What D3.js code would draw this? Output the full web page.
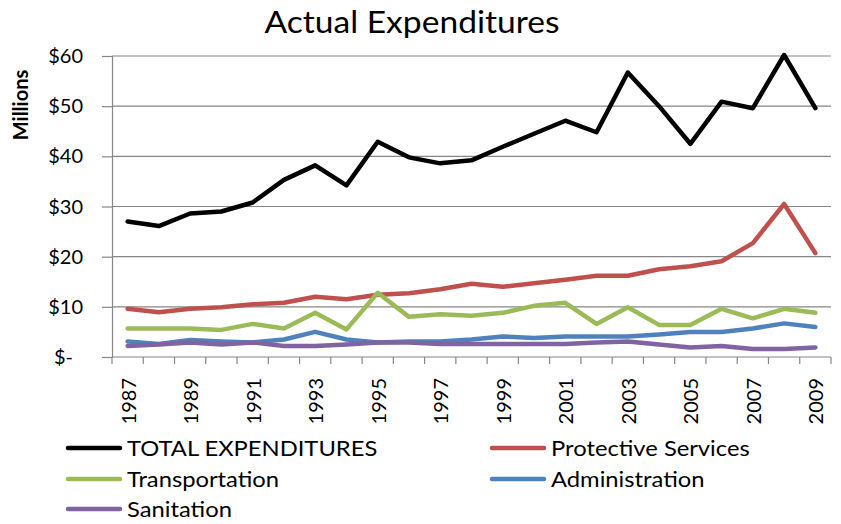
<!DOCTYPE html>
<html><head><meta charset="utf-8">
<script src="https://cdn.jsdelivr.net/npm/d3@7"></script>
<style>body{margin:0;background:#fff}svg{display:block}</style>
</head><body>
<svg id="c" width="841" height="524"></svg>
<script>
const years = [1987,1988,1989,1990,1991,1992,1993,1994,1995,1996,1997,1998,1999,2000,2001,2002,2003,2004,2005,2006,2007,2008,2009];
const total = [27.0,26.1,28.6,29.0,30.8,35.3,38.2,34.2,42.9,39.8,38.6,39.2,41.9,44.5,47.1,44.8,56.7,50.0,42.5,50.9,49.6,60.2,49.6];
const protective = [9.6,8.9,9.6,9.9,10.5,10.8,12.0,11.5,12.4,12.7,13.5,14.6,14.0,14.7,15.4,16.2,16.2,17.5,18.1,19.1,22.7,30.5,20.7];
const transportation = [5.7,5.7,5.7,5.4,6.6,5.7,8.8,5.5,12.8,8.0,8.5,8.2,8.8,10.2,10.8,6.6,9.9,6.4,6.4,9.6,7.7,9.6,8.8];
const administration = [3.1,2.6,3.4,3.1,2.9,3.5,5.0,3.5,2.9,3.1,3.1,3.5,4.1,3.8,4.1,4.1,4.1,4.5,5.0,5.0,5.7,6.7,6.0];
const sanitation = [2.2,2.5,2.9,2.5,2.9,2.2,2.2,2.5,2.9,2.9,2.6,2.6,2.6,2.6,2.6,2.9,3.1,2.5,1.9,2.2,1.6,1.6,1.9];
const seriesNames = ["TOTAL EXPENDITURES","Protective Services","Transportation","Administration","Sanitation"];
const seriesColors = ["#000000","#C0504D","#9BBB59","#4F81BD","#8064A2"];
const yTicks = [0,10,20,30,40,50,60];
const yTickLabels = ["$-","$10","$20","$30","$40","$50","$60"];
const labelYears = years.filter((d,i)=>i%2===0);

const seriesData = [total, protective, transportation, administration, sanitation];
const svg = d3.select("#c");
const L = 112, R = 831, T = 56, B = 357;
const font = "Lato, 'Open Sans', sans-serif";

const x = d3.scaleBand().domain(years).range([L, R]).padding(0);
const y = d3.scaleLinear().domain([0, 60]).range([B, T]);
const grey = "#868686";

// gridlines
svg.append("g").selectAll("line").data(yTicks.filter(d=>d>0)).join("line")
  .attr("x1", L).attr("x2", R).attr("y1", d=>y(d)).attr("y2", d=>y(d))
  .attr("stroke", grey).attr("stroke-width", 1.2);

// y axis
const yAxis = d3.axisLeft(y).tickValues(yTicks).tickSize(10).tickPadding(19)
  .tickFormat((d,i)=>yTickLabels[i]);
const yg = svg.append("g").attr("transform", `translate(${L},0)`).call(yAxis);
yg.select(".domain").attr("stroke", grey).attr("stroke-width", 1.2);
yg.selectAll(".tick line").attr("stroke", grey).attr("stroke-width", 1.2);
yg.selectAll(".tick text").attr("font-family", font).attr("font-size", 20).attr("fill", "#000")
  .attr("dy", "0.33em");
yg.selectAll(".tick text").filter(d=>d===0).attr("dx", -10);

// x axis: baseline, ticks at band edges
const xg = svg.append("g");
xg.append("line").attr("x1", L).attr("x2", R).attr("y1", B).attr("y2", B)
  .attr("stroke", grey).attr("stroke-width", 1.2);
const edges = years.map(d=>x(d)).concat([x(years[years.length-1]) + x.bandwidth()]);
xg.selectAll("line.tk").data(edges).join("line").attr("class","tk")
  .attr("x1", d=>d).attr("x2", d=>d).attr("y1", B).attr("y2", B+7)
  .attr("stroke", grey).attr("stroke-width", 1.2);
xg.selectAll("text").data(labelYears).join("text")
  .attr("transform", d=>`translate(${x(d)+x.bandwidth()/2+8},${B+21}) rotate(-90)`)
  .attr("text-anchor", "end").attr("font-family", font).attr("font-size", 20).attr("fill","#000")
  .text(d=>d);

// lines
const line = d3.line().x((d,i)=>x(years[i]) + x.bandwidth()/2).y(d=>y(d));
svg.append("g").selectAll("path").data(seriesData).join("path")
  .attr("d", d=>line(d)).attr("fill","none")
  .attr("stroke", (d,i)=>seriesColors[i]).attr("stroke-width", 4.5)
  .attr("stroke-linejoin","round").attr("stroke-linecap","round");

// title
svg.append("text").attr("transform", "translate(412,33) scale(1.12,1)").attr("text-anchor","middle")
  .attr("font-family", font).attr("font-size", 30).attr("fill","#000").text("Actual Expenditures");

// y title
svg.append("text").attr("transform", "translate(28,105) rotate(-90)").attr("text-anchor","middle")
  .attr("font-family", font).attr("font-size", 20).attr("font-weight","bold").attr("fill","#000").text("Millions");

// legend
const legPos = [[67,448],[491,448],[67,479],[491,479],[67,509]];
const lg = svg.append("g").selectAll("g").data(seriesNames).join("g")
  .attr("transform", (d,i)=>`translate(${legPos[i][0]},${legPos[i][1]})`);
lg.append("line").attr("x1", 1).attr("x2", 53).attr("y1", 0).attr("y2", 0)
  .attr("stroke", (d,i)=>seriesColors[i]).attr("stroke-width", 4.5).attr("stroke-linecap","round");
lg.append("text").attr("transform", "translate(60,0) scale(1.08,1)").attr("dy","0.36em")
  .attr("font-family", font).attr("font-size", 22).attr("fill","#000").text(d=>d);
</script>
</body></html>
